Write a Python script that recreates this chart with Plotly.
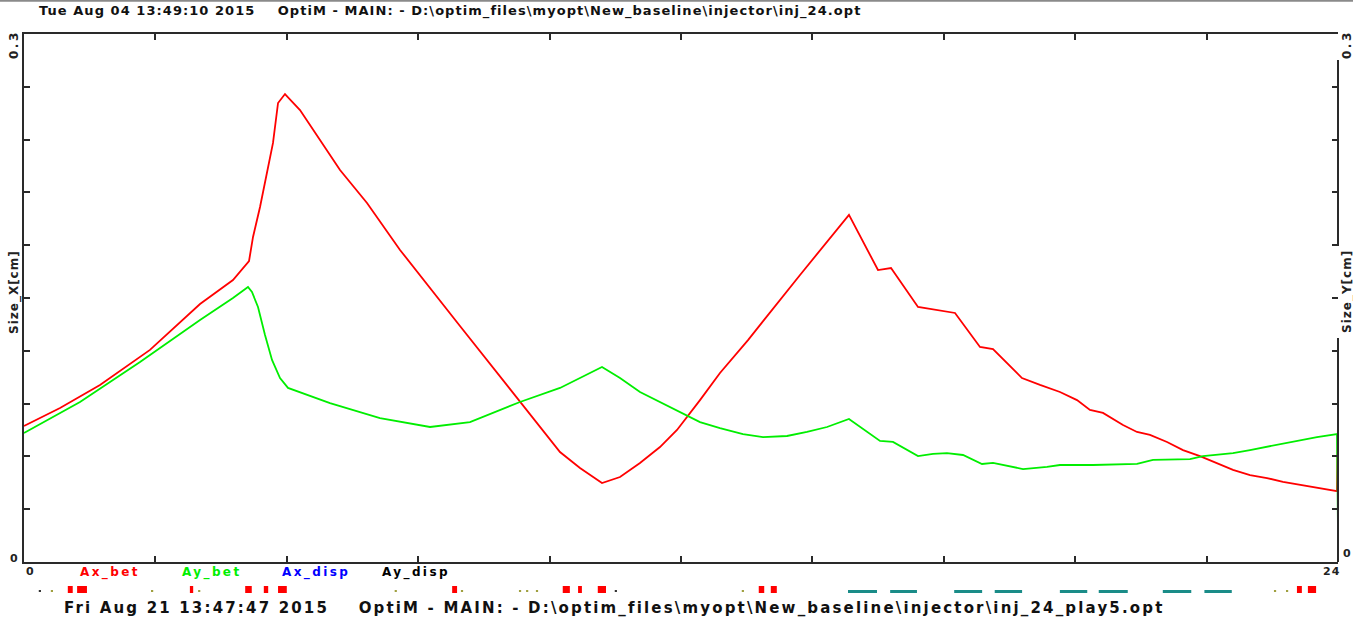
import plotly.graph_objects as go

# ---------------- data ----------------
s_x = [0, 0.658, 1.388, 2.301, 3.215, 3.817, 4.110, 4.183, 4.311, 4.457, 4.548, 4.640, 4.767,
       5.041, 5.772, 6.265, 6.868, 7.963, 9.059, 9.790, 10.155, 10.557, 10.886, 11.251, 11.616,
       11.927, 12.347, 12.712, 13.224, 14.174, 15.068, 15.598, 15.836, 16.329, 17.005, 17.461,
       17.699, 18.228, 18.557, 18.922, 19.233, 19.470, 19.708, 20.073, 20.329, 20.566, 20.877,
       21.169, 21.479, 21.790, 22.082, 22.393, 22.703, 22.995, 23.306, 23.616, 23.982, 24.0, 24.0]
size_x = [0.0773, 0.0875, 0.1006, 0.1205, 0.1466, 0.1602, 0.1710, 0.1847, 0.2017, 0.2244, 0.2381,
          0.2608, 0.2659, 0.2568, 0.2227, 0.2040, 0.1773, 0.1341, 0.0915, 0.0625, 0.0534, 0.0449,
          0.0483, 0.0563, 0.0653, 0.0750, 0.0920, 0.1074, 0.1261, 0.1631, 0.1972, 0.1659, 0.1670,
          0.1449, 0.1415, 0.1222, 0.1210, 0.1045, 0.1006, 0.0966, 0.0920, 0.0864, 0.0847, 0.0778,
          0.0739, 0.0722, 0.0682, 0.0636, 0.0602, 0.0563, 0.0523, 0.0494, 0.0477, 0.0455, 0.0438,
          0.0420, 0.0403, 0.0795, 0.0114]

s_y = [0, 1.023, 2.119, 3.215, 3.817, 4.091, 4.164, 4.274, 4.402, 4.530, 4.676, 4.822, 5.589,
       6.502, 7.416, 8.146, 9.059, 9.790, 10.557, 10.886, 11.251, 11.616, 11.927, 12.347, 12.712,
       13.132, 13.498, 13.936, 14.301, 14.667, 15.068, 15.269, 15.635, 15.872, 16.329, 16.603,
       16.858, 17.151, 17.498, 17.699, 17.954, 18.247, 18.685, 18.922, 19.525, 20.329, 20.621,
       21.297, 21.534, 22.082, 22.393, 22.758, 23.178, 23.616, 23.982, 24.0]
size_y = [0.0733, 0.0909, 0.1136, 0.1375, 0.1500, 0.1563, 0.1534, 0.1449, 0.1290, 0.1148, 0.1045,
          0.0989, 0.0903, 0.0818, 0.0767, 0.0795, 0.0909, 0.0989, 0.1108, 0.1045, 0.0966, 0.0909,
          0.0858, 0.0795, 0.0761, 0.0727, 0.0710, 0.0716, 0.0739, 0.0767, 0.0813, 0.0767, 0.0688,
          0.0682, 0.0602, 0.0614, 0.0619, 0.0608, 0.0557, 0.0563, 0.0545, 0.0528, 0.0540, 0.0551,
          0.0551, 0.0557, 0.0580, 0.0585, 0.0602, 0.0619, 0.0636, 0.0659, 0.0682, 0.0710, 0.0727,
          0.0170]

# lattice elements (s positions)
red_start = [0.80, 0.97, 3.03, 4.04, 4.38, 4.64, 7.82, 9.84, 10.12, 10.48, 13.42, 13.64, 23.25, 23.45]
red_end = [0.89, 1.15, 3.09, 4.16, 4.46, 4.80, 7.91, 9.97, 10.19, 10.63, 13.52, 13.75, 23.34, 23.60]
teal_start = [15.05, 15.82, 16.99, 17.73, 18.92, 19.63, 20.80, 21.56]
teal_end = [15.58, 16.31, 17.50, 18.23, 19.42, 20.16, 21.32, 22.06]
olive_s = [0.51, 2.34, 3.20, 6.79, 8.00, 9.06, 9.19, 9.37, 13.13, 22.85, 23.07]
black_s = [0.29, 10.81]

legend_names = ["Ax_bet", "Ay_bet", "Ax_disp", "Ay_disp"]
legend_colors = ["#ff0000", "#00ee00", "#0000ff", "#000000"]

title_top = "Tue Aug 04 13:49:10 2015    OptiM - MAIN: - D:\\optim_files\\myopt\\New_baseline\\injector\\inj_24.opt"
title_bot = "Fri Aug 21 13:47:47 2015    OptiM - MAIN: - D:\\optim_files\\myopt\\New_baseline\\injector\\inj_24_play5.opt"

# ---------------- figure ----------------
W, H = 1353, 622
ML, MR, MT, MB = 24, 15, 34, 60
PW, PH = W - ML - MR, H - MT - MB


def px(x):
    return (x - ML) / PW


def py(y):
    return (H - MB - y) / PH


fig = go.Figure()
fig.add_trace(go.Scatter(x=s_x, y=size_x, mode="lines", line=dict(color="#ff0000", width=1.8),
                         name="Ax_bet", showlegend=False))
fig.add_trace(go.Scatter(x=s_y, y=size_y, mode="lines", line=dict(color="#00ee00", width=1.8),
                         name="Ay_bet", showlegend=False))

AX = "#2a2a2a"
fig.update_layout(
    width=W, height=H, margin=dict(l=ML, r=MR, t=MT, b=MB),
    paper_bgcolor="white", plot_bgcolor="white", showlegend=False,
    xaxis=dict(range=[0, 24], dtick=2.4, tick0=0, ticks="inside", ticklen=6, tickwidth=2,
               tickcolor=AX, showline=True, linecolor=AX, linewidth=2, mirror="ticks",
               showgrid=False, zeroline=False, showticklabels=False),
    yaxis=dict(range=[0, 0.3], dtick=0.03, tick0=0, ticks="inside", ticklen=6, tickwidth=2,
               tickcolor=AX, showline=True, linecolor=AX, linewidth=2,
               showgrid=False, zeroline=False, showticklabels=False),
    yaxis2=dict(range=[0, 0.3], dtick=0.03, tick0=0, ticks="inside", ticklen=6, tickwidth=2,
                tickcolor=AX, showline=False, overlaying="y", side="right",
                showgrid=False, zeroline=False, showticklabels=False),
)
fig.add_trace(go.Scatter(x=[None], y=[None], yaxis="y2", showlegend=False))

shapes = []
shapes.append(dict(type="line", xref="paper", yref="paper", x0=1, x1=1, y0=py(60), y1=py(246),
                   line=dict(color=AX, width=2)))
shapes.append(dict(type="line", xref="paper", yref="paper", x0=1, x1=1, y0=py(338), y1=0,
                   line=dict(color=AX, width=2)))
shapes.append(dict(type="line", xref="paper", yref="paper", x0=px(0), x1=px(W), y0=py(0.8), y1=py(0.8),
                   line=dict(color="#8a8a8a", width=2)))
for a, b in zip(red_start, red_end):
    shapes.append(dict(type="rect", xref="x", yref="paper", x0=a, x1=b, y0=py(593), y1=py(586),
                       fillcolor="#ff0000", line=dict(width=0)))
for a, b in zip(teal_start, teal_end):
    shapes.append(dict(type="rect", xref="x", yref="paper", x0=a, x1=b, y0=py(593), y1=py(590),
                       fillcolor="#1a8c88", line=dict(width=0)))
for s in olive_s:
    shapes.append(dict(type="rect", xref="x", yref="paper", x0=s - 0.02, x1=s + 0.02, y0=py(592), y1=py(590),
                       fillcolor="#a0a040", line=dict(width=0)))
for s in black_s:
    shapes.append(dict(type="rect", xref="x", yref="paper", x0=s - 0.02, x1=s + 0.02, y0=py(592), y1=py(590),
                       fillcolor="#333333", line=dict(width=0)))
fig.update_layout(shapes=shapes)

FONT = "DejaVu Sans"


def sp(t, ls):
    return '<span style="letter-spacing:%spx">%s</span>' % (ls, t)


ann = []
ann.append(dict(x=px(37), y=py(11), xref="paper", yref="paper", text=sp(title_top, 1.05),
                showarrow=False, xanchor="left", yanchor="middle",
                font=dict(family=FONT, size=13, color="#111", weight="bold")))
ann.append(dict(x=px(62), y=py(608), xref="paper", yref="paper", text=sp(title_bot, 2.17),
                showarrow=False, xanchor="left", yanchor="middle",
                font=dict(family=FONT, size=15, color="#111", weight="bold")))
leg_x = [78, 180, 280, 380]
for name, col, lx in zip(legend_names, legend_colors, leg_x):
    ann.append(dict(x=px(lx), y=py(572), xref="paper", yref="paper", text=sp(name, 2.4),
                    showarrow=False, xanchor="left", yanchor="middle",
                    font=dict(family=FONT, size=12, color=col, weight="bold")))
small = dict(family=FONT, size=11, color="#222", weight="bold")
rot = dict(family=FONT, size=12, color="#222", weight="bold")
ann.append(dict(x=px(30), y=py(571), xref="paper", yref="paper", text="0", showarrow=False,
                xanchor="center", yanchor="middle", font=small))
ann.append(dict(x=px(1331), y=py(571), xref="paper", yref="paper", text=sp("24", 1), showarrow=False,
                xanchor="center", yanchor="middle", font=small))
for xx in (14, 1347):
    ann.append(dict(x=px(xx), y=py(45), xref="paper", yref="paper", text=sp("0.3", 2.5), showarrow=False,
                    textangle=-90, xanchor="center", yanchor="middle", font=rot))
ann.append(dict(x=px(14), y=py(292), xref="paper", yref="paper", text=sp("Size_X[cm]", 1.0), showarrow=False,
                textangle=-90, xanchor="center", yanchor="middle", font=rot))
ann.append(dict(x=px(1347), y=py(292), xref="paper", yref="paper", text=sp("Size_Y[cm]", 1.0), showarrow=False,
                textangle=-90, xanchor="center", yanchor="middle", font=rot))
ann.append(dict(x=px(14), y=py(558), xref="paper", yref="paper", text="0", showarrow=False,
                xanchor="center", yanchor="middle", font=small))
ann.append(dict(x=px(1347), y=py(553), xref="paper", yref="paper", text="0", showarrow=False,
                xanchor="center", yanchor="middle", font=small))
fig.update_layout(annotations=ann)

fig.write_html("out.html", config={"displayModeBar": False},
               post_script="document.body.style.margin='0';document.body.style.overflow='hidden';")
